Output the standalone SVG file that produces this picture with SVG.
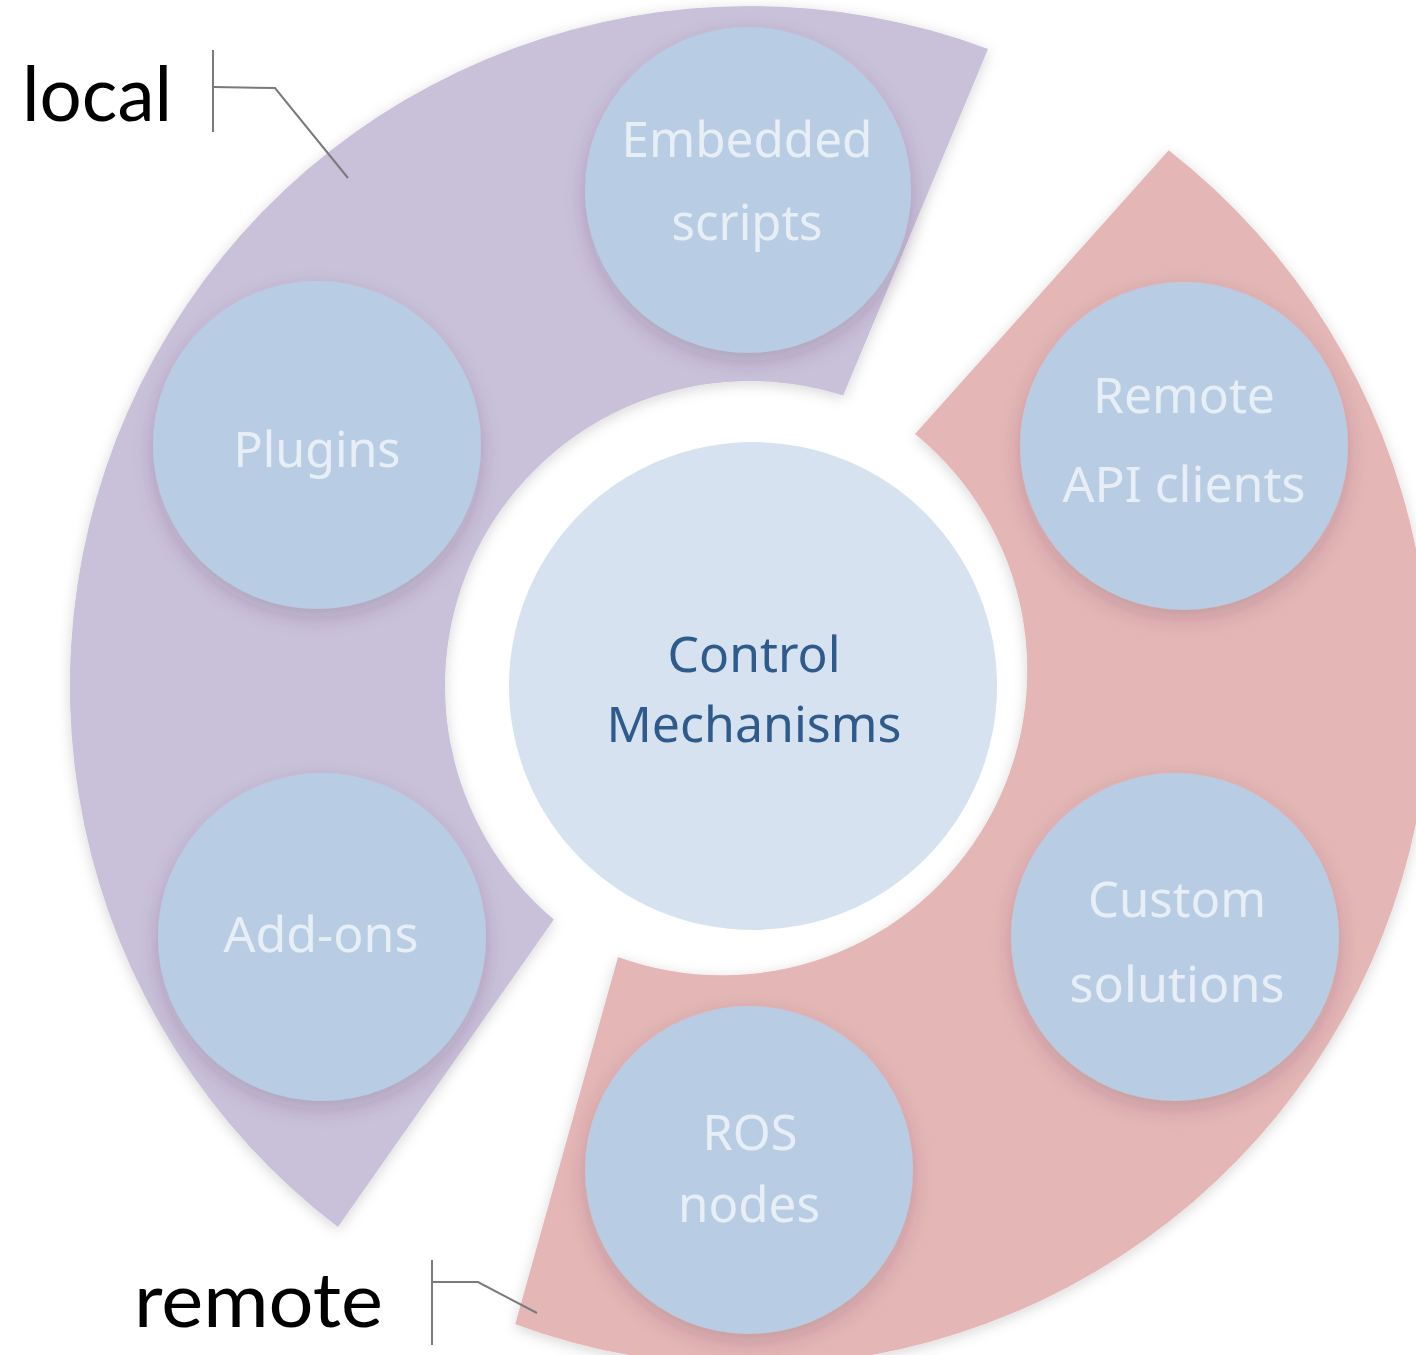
<svg xmlns="http://www.w3.org/2000/svg" width="1416" height="1355" viewBox="0 0 1416 1355">
  <style>
    .node-c { fill: #B8CDE4; filter: url(#nsh); }
    .nt { font-family: "Noto Sans", "Open Sans", sans-serif; font-size: 50px; fill: #E8EEF6; text-anchor: middle; }
    .ct { font-family: "Noto Sans", "Open Sans", sans-serif; font-size: 50px; fill: #2F5A8C; text-anchor: middle; }
    .lbl { font-family: Lato, "Liberation Sans", sans-serif; font-size: 76px; fill: #000; }
    .call { fill: none; stroke: #7A7A7A; stroke-width: 2; }
  </style>
  <defs>
    <filter id="bsh" x="-20%" y="-20%" width="140%" height="140%">
      <feDropShadow dx="0" dy="3" stdDeviation="7" flood-color="#000" flood-opacity="0.16"/>
    </filter>
    <filter id="nsh" x="-30%" y="-30%" width="160%" height="160%">
      <feDropShadow dx="0" dy="8" stdDeviation="10" flood-color="#402040" flood-opacity="0.2"/>
    </filter>
  </defs>
  <rect width="1416" height="1355" fill="#FFFFFF"/>

  <g id="band-local">
    <path d="M 988.1,49 A 680 680 0 0 0 337.9,1226.9 L 553.9,919.6 A 305 305 0 0 1 843.2,395.6 Z" fill="#C9C0DA" filter="url(#bsh)"/>
  </g>
  <g id="band-remote">
    <path d="M 1168.7,150.2 A 680 680 0 0 1 515.2,1324.2 L 618,957 A 305 305 0 0 0 915,434 Z" fill="#E4B6B6" filter="url(#bsh)"/>
  </g>

  <g id="center">
    <circle cx="753" cy="686" r="244" fill="#D6E2EF"/>
    <text class="ct" x="754" y="672" textLength="173" lengthAdjust="spacingAndGlyphs">Control</text>
    <text class="ct" x="754" y="742" textLength="295" lengthAdjust="spacingAndGlyphs">Mechanisms</text>
  </g>

  <g id="node-embedded">
    <circle class="node-c" cx="748" cy="190" r="163"/>
    <text class="nt" x="747" y="157" textLength="251" lengthAdjust="spacingAndGlyphs">Embedded</text>
    <text class="nt" x="747" y="240" textLength="151" lengthAdjust="spacingAndGlyphs">scripts</text>
  </g>
  <g id="node-plugins">
    <circle class="node-c" cx="317" cy="445" r="164"/>
    <text class="nt" x="317" y="467" textLength="167" lengthAdjust="spacingAndGlyphs">Plugins</text>
  </g>
  <g id="node-addons">
    <circle class="node-c" cx="322" cy="937" r="164"/>
    <text class="nt" x="321" y="952" textLength="195" lengthAdjust="spacingAndGlyphs">Add-ons</text>
  </g>
  <g id="node-remote-api">
    <circle class="node-c" cx="1184" cy="446" r="164"/>
    <text class="nt" x="1184" y="413" textLength="182" lengthAdjust="spacingAndGlyphs">Remote</text>
    <text class="nt" x="1184" y="502" textLength="243" lengthAdjust="spacingAndGlyphs">API clients</text>
  </g>
  <g id="node-custom">
    <circle class="node-c" cx="1175" cy="937" r="164"/>
    <text class="nt" x="1177" y="917" textLength="178" lengthAdjust="spacingAndGlyphs">Custom</text>
    <text class="nt" x="1177" y="1002" textLength="215" lengthAdjust="spacingAndGlyphs">solutions</text>
  </g>
  <g id="node-ros">
    <circle class="node-c" cx="749" cy="1170" r="164"/>
    <text class="nt" x="750" y="1150" textLength="95" lengthAdjust="spacingAndGlyphs">ROS</text>
    <text class="nt" x="749" y="1222" textLength="142" lengthAdjust="spacingAndGlyphs">nodes</text>
  </g>

  <g id="label-local">
    <text class="lbl" x="22" y="121" textLength="150" lengthAdjust="spacingAndGlyphs">local</text>
  </g>
  <g id="label-remote">
    <text class="lbl" x="134" y="1327" textLength="249" lengthAdjust="spacingAndGlyphs">remote</text>
  </g>

  <g id="connectors">
    <line class="call" x1="213" y1="50" x2="213" y2="132"/>
    <polyline class="call" points="213,87 275,88 348,178"/>
    <line class="call" x1="432" y1="1260" x2="432" y2="1345"/>
    <polyline class="call" points="432,1282 478,1282 537,1313"/>
  </g>
</svg>
